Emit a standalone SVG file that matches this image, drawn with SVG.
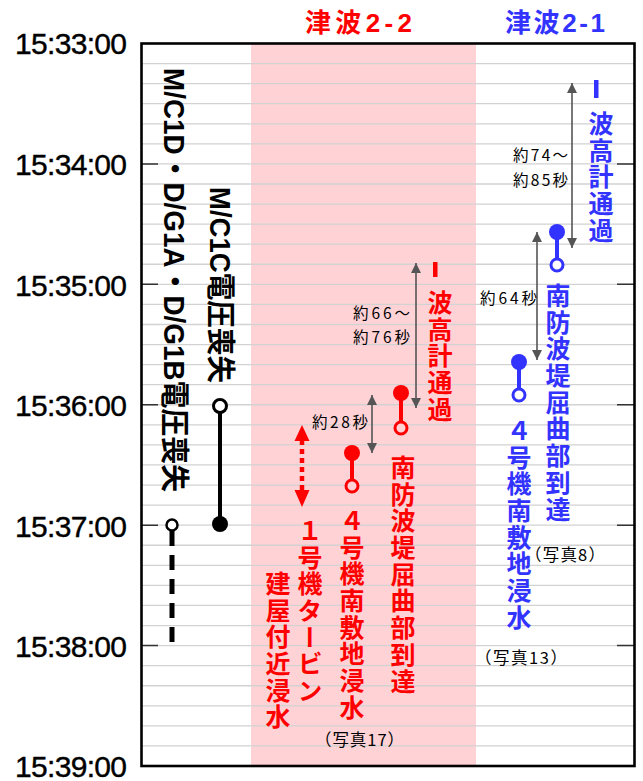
<svg xmlns="http://www.w3.org/2000/svg" width="643" height="781" viewBox="0 0 643 781">
<style>
.grid{stroke:#d2d2d2;stroke-width:1.3}
.tick{stroke:#333;stroke-width:1.5}
.time{font-family:"Liberation Sans",Arial,sans-serif;font-size:30px;fill:#000;stroke:#000;stroke-width:0.4;text-anchor:end}
.head{font-family:"Liberation Sans","Noto Sans CJK JP",sans-serif;font-weight:bold;font-size:26px}
.v{font-family:"Noto Sans CJK JP",sans-serif;font-weight:bold;font-size:25px;writing-mode:vertical-rl;letter-spacing:1.7px}
.red{fill:#ff0000}
.blue{fill:#3333ff}
.blk{font-family:"Liberation Sans","Noto Sans CJK JP",sans-serif;font-weight:bold;font-size:29px;fill:#000;dominant-baseline:central}
.lbl{font-family:"Noto Sans CJK JP",sans-serif;font-size:16.5px;fill:#000}
.ilbl{font-family:"Noto Sans CJK JP",sans-serif;font-size:15.5px;fill:#000}
.garrow{stroke:#555;stroke-width:1.6;fill:none;marker-start:url(#ga);marker-end:url(#ga)}
.rl{stroke:#ff0000;stroke-width:4}
.bl{stroke:#3333ff;stroke-width:4}
</style>
<defs>
<marker id="ga" viewBox="0 0 10 10" refX="10" refY="5" markerWidth="10" markerHeight="10" markerUnits="userSpaceOnUse" orient="auto-start-reverse"><path d="M0,0 L10,5 L0,10 z" fill="#555"/></marker>
</defs>
<rect x="0" y="0" width="643" height="781" fill="#fff"/>
<g id="plot">
<rect x="141.5" y="43.5" width="493" height="722.5" fill="#fff"/>
<rect x="251" y="43.5" width="225" height="722.5" fill="#ffd2d6"/>
<g id="gridlines" class="grid">
<path d="M141.5 63.57H634.5M141.5 83.64H634.5M141.5 103.71H634.5M141.5 123.78H634.5M141.5 143.85H634.5M141.5 163.92H634.5M141.5 183.99H634.5M141.5 204.06H634.5M141.5 224.13H634.5M141.5 244.2H634.5M141.5 264.27H634.5M141.5 284.34H634.5M141.5 304.41H634.5M141.5 324.48H634.5M141.5 344.55H634.5M141.5 364.62H634.5M141.5 384.69H634.5M141.5 404.76H634.5M141.5 424.83H634.5M141.5 444.9H634.5M141.5 464.97H634.5M141.5 485.04H634.5M141.5 505.11H634.5M141.5 525.18H634.5M141.5 545.25H634.5M141.5 565.32H634.5M141.5 585.39H634.5M141.5 605.46H634.5M141.5 625.53H634.5M141.5 645.6H634.5M141.5 665.67H634.5M141.5 685.74H634.5M141.5 705.81H634.5M141.5 725.88H634.5M141.5 745.95H634.5"/>
</g>
<g id="ticks" class="tick">
<path d="M141.5 163.92H158M141.5 284.34H158M141.5 404.76H158M141.5 525.18H158M141.5 645.6H158M617 163.92H634.5M617 284.34H634.5M617 404.76H634.5M617 525.18H634.5M617 645.6H634.5"/>
</g>
<rect x="141.5" y="43.5" width="493" height="722.5" fill="none" stroke="#000" stroke-width="2.6"/>
</g>
<g id="time-axis">
<text class="time" x="127" y="54" textLength="112">15:33:00</text>
<text class="time" x="127" y="175" textLength="112">15:34:00</text>
<text class="time" x="127" y="295.5" textLength="112">15:35:00</text>
<text class="time" x="127" y="416" textLength="112">15:36:00</text>
<text class="time" x="127" y="536.5" textLength="112">15:37:00</text>
<text class="time" x="127" y="657" textLength="112">15:38:00</text>
<text class="time" x="127" y="777" textLength="112">15:39:00</text>
</g>
<g id="headings">
<text class="head red" x="305" y="32" textLength="107">津波2-2</text>
<text class="head blue" x="505" y="32" textLength="100">津波2-1</text>
</g>
<g id="connectors">
<line class="garrow" x1="372" y1="395" x2="372" y2="453"/>
<line class="garrow" x1="416" y1="263" x2="416" y2="408"/>
<line class="garrow" x1="537" y1="232" x2="537" y2="360"/>
<line class="garrow" x1="572" y1="83" x2="572" y2="248"/>
<g id="red-dotted-arrow">
<line x1="302" y1="440" x2="302" y2="490" stroke="#ff0000" stroke-width="4.5" stroke-dasharray="5 4"/>
<path d="M302 425 L309.5 441 L294.5 441 Z M302 507 L309.5 490 L294.5 490 Z" fill="#ff0000"/>
</g>
</g>
<g id="node-mc1d">
<text class="blk" transform="translate(174,68) rotate(90)" textLength="424" lengthAdjust="spacingAndGlyphs">M/C1D・D/G1A・D/G1B電圧喪失</text>
<line x1="172" y1="531" x2="172" y2="646" stroke="#000" stroke-width="5" stroke-dasharray="15 9"/>
<circle cx="172" cy="525" r="5.5" fill="#fff" stroke="#000" stroke-width="2.5"/>
</g>
<g id="node-mc1c">
<text class="blk" transform="translate(220,187) rotate(90)" textLength="196" lengthAdjust="spacingAndGlyphs">M/C1C電圧喪失</text>
<line x1="220" y1="412" x2="220" y2="524" stroke="#000" stroke-width="4"/>
<circle cx="220" cy="406" r="6.5" fill="#fff" stroke="#000" stroke-width="3"/>
<circle cx="220" cy="524" r="8"/>
</g>
<g id="node-r-turbine">
<text class="v red" x="310" y="518">１号機タービン</text>
<text class="v red" x="278" y="571">建屋付近浸水</text>
</g>
<g id="node-r-unit4">
<line class="rl" x1="352" y1="453" x2="352" y2="479"/>
<circle cx="352" cy="453" r="8" fill="#ff0000"/>
<circle cx="352" cy="486" r="6" fill="#ffd2d6" stroke="#ff0000" stroke-width="3"/>
<text class="v red" x="352" y="508">４号機南敷地浸水</text>
<text class="lbl" x="315" y="746" textLength="89">（写真17）</text>
</g>
<g id="node-r-breakwater">
<line class="rl" x1="401" y1="393" x2="401" y2="421"/>
<circle cx="401" cy="393" r="8" fill="#ff0000"/>
<circle cx="401" cy="428" r="6" fill="#ffd2d6" stroke="#ff0000" stroke-width="3"/>
<text class="v red" x="403" y="455">南防波堤屈曲部到達</text>
</g>
<g id="node-r-gauge">
<rect x="433" y="262" width="4.5" height="15" fill="#ff0000"/>
<text class="v red" x="440" y="290">波高計通過</text>
</g>
<g id="node-b-gauge">
<rect x="594" y="80" width="4.5" height="18" fill="#3333ff"/>
<text class="v blue" x="601" y="111">波高計通過</text>
</g>
<g id="node-b-breakwater">
<line class="bl" x1="557" y1="232" x2="557" y2="258"/>
<circle cx="557" cy="232" r="8" fill="#3333ff"/>
<circle cx="557" cy="265" r="6" fill="#fff" stroke="#3333ff" stroke-width="3"/>
<text class="v blue" x="558" y="283">南防波堤屈曲部到達</text>
<text class="lbl" x="525" y="561" textLength="80">（写真8）</text>
</g>
<g id="node-b-unit4">
<line class="bl" x1="519" y1="362" x2="519" y2="388"/>
<circle cx="519" cy="362" r="8" fill="#3333ff"/>
<circle cx="519" cy="395" r="6" fill="#fff" stroke="#3333ff" stroke-width="3"/>
<text class="v blue" x="519" y="418">４号機南敷地浸水</text>
<text class="lbl" x="475" y="664" textLength="92">（写真13）</text>
</g>
<g id="interval-labels">
<text class="ilbl" x="312" y="427.5" textLength="56">約28秒</text>
<text class="ilbl" x="353" y="318.5" textLength="57">約66～</text>
<text class="ilbl" x="353" y="342.5" textLength="57">約76秒</text>
<text class="ilbl" x="480" y="303.5" textLength="57">約64秒</text>
<text class="ilbl" x="513" y="160.5" textLength="55">約74～</text>
<text class="ilbl" x="513" y="185.5" textLength="55">約85秒</text>
</g>
</svg>
